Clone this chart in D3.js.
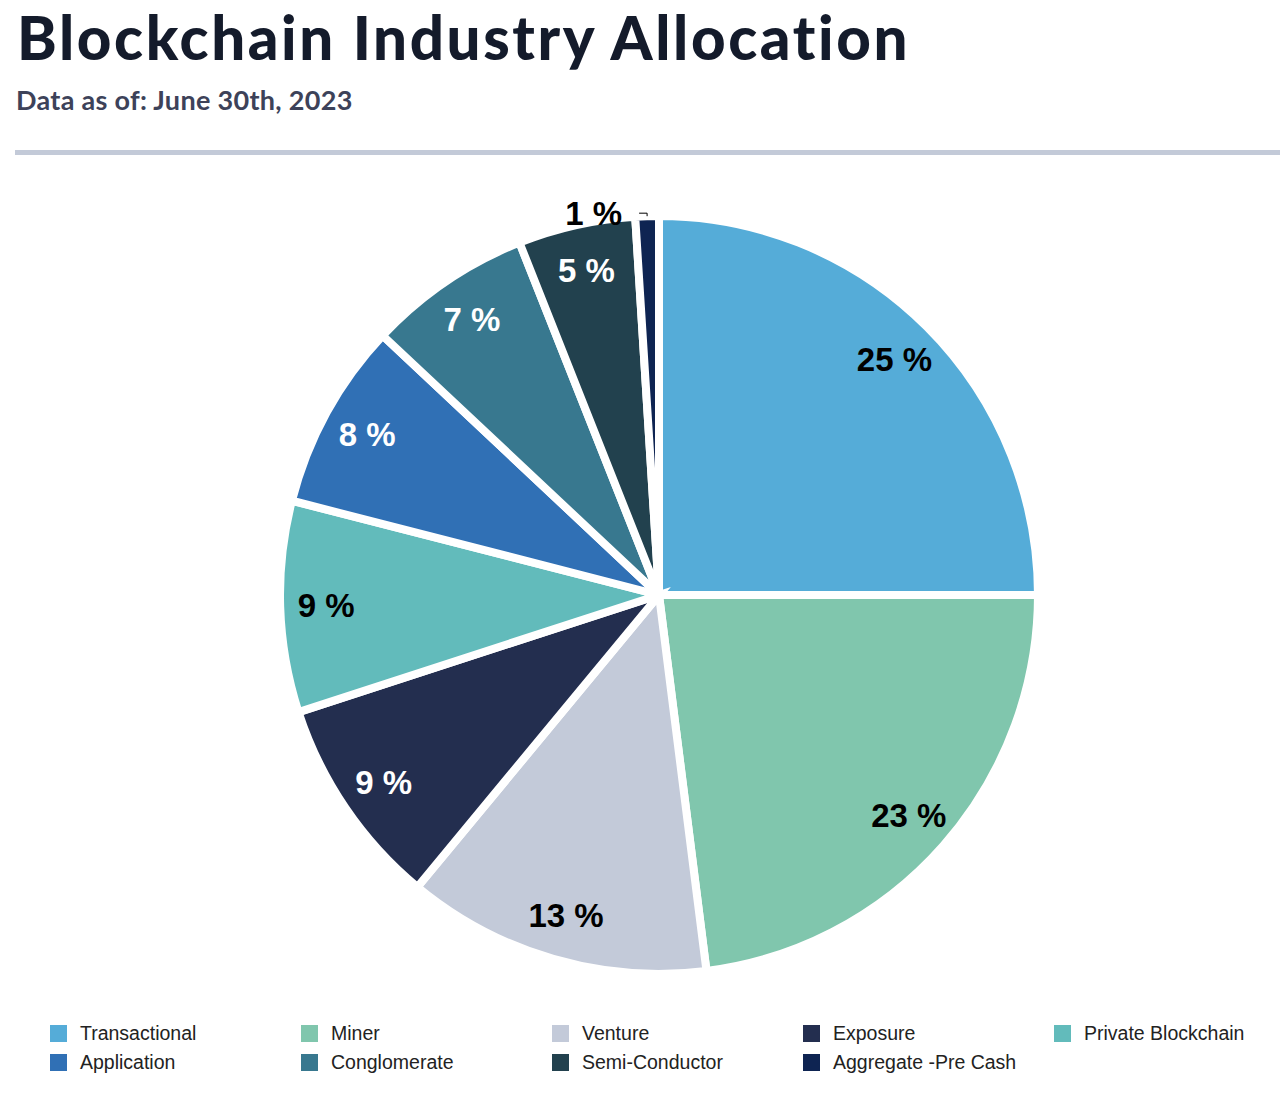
<!DOCTYPE html>
<html><head><meta charset="utf-8">
<script src="https://cdn.jsdelivr.net/npm/d3@7"></script>
<style>
html,body{margin:0;padding:0;background:#fff;}
svg{display:block;}
</style></head>
<body>
<svg id="chart" width="1280" height="1096"></svg>
<script>
const categories = ["Transactional","Miner","Venture","Exposure","Private Blockchain","Application","Conglomerate","Semi-Conductor","Aggregate -Pre Cash"];
const values = [25, 23, 13, 9, 9, 8, 7, 5, 1];
const colors = ["#55acd8","#80c6ad","#c3cad9","#232e4f","#62bbbb","#3070b5","#38788f","#22414e","#0e2452"];
const labelColors = ["#000","#000","#000","#fff","#000","#fff","#fff","#fff","#000"];
const title = "Blockchain Industry Allocation";
const subtitle = "Data as of: June 30th, 2023";

const svg = d3.select("#chart");

svg.append("text").attr("x",17).attr("y",60)
  .attr("font-family","Lato").attr("font-weight",900).attr("font-size",60)
  .attr("letter-spacing",2.6)
  .attr("fill","#141b2b").text(title);
svg.append("text").attr("x",16).attr("y",110)
  .attr("font-family","Lato").attr("font-weight",700).attr("font-size",27)
  .attr("letter-spacing",0.3)
  .attr("fill","#3d4259").text(subtitle);
svg.append("rect").attr("x",15).attr("y",150).attr("width",1265).attr("height",5).attr("fill","#c3cad8");

const cx = 659, cy = 595, R = 379;
const pie = d3.pie().value(d => d).sort(null);
const arcs = pie(values);
const arc = d3.arc().innerRadius(0).outerRadius(R);
const labelArc = d3.arc().innerRadius(333).outerRadius(333);

const g = svg.append("g").attr("transform",`translate(${cx},${cy})`);
g.selectAll("path.slice").data(arcs).join("path")
  .attr("class","slice")
  .attr("d",arc)
  .attr("fill",(d,i)=>colors[i])
  .attr("stroke","#fff").attr("stroke-width",8).attr("stroke-linejoin","miter");

const inside = arcs.filter(d => d.data >= 3);
g.selectAll("text.lbl").data(inside).join("text")
  .attr("class","lbl")
  .attr("transform",d => `translate(${labelArc.centroid(d)})`)
  .attr("text-anchor","middle").attr("dy","0.36em")
  .attr("font-family","Liberation Sans, Arial, sans-serif").attr("font-weight",700).attr("font-size",33)
  .attr("fill",d => labelColors[d.index])
  .text(d => d.data + " %");

// small slice: outside label with leader
const outside = arcs.filter(d => d.data < 3);
outside.forEach(d => {
  const a = (d.startAngle + d.endAngle)/2;
  const p0 = [Math.sin(a)*(R), -Math.cos(a)*(R)];
  const p1 = [p0[0], p0[1]-3];
  const p2 = [p0[0]-8, p0[1]-3];
  g.append("polyline").attr("points",[p0,p1,p2].map(p=>p.join(",")).join(" "))
    .attr("fill","none").attr("stroke","#000").attr("stroke-width",1);
  g.append("text").attr("x",p2[0]-17).attr("y",p2[1]).attr("dy","0.36em")
    .attr("text-anchor","end")
    .attr("font-family","Liberation Sans, Arial, sans-serif").attr("font-weight",700).attr("font-size",33)
    .attr("fill",labelColors[d.index]).text(d.data + " %");
});

// legend
const colX = [50, 301, 552, 803, 1054];
const leg = svg.append("g");
categories.forEach((c,i) => {
  const col = i % 5, row = Math.floor(i/5);
  const x = colX[col], y = 1033 + row*29;
  leg.append("rect").attr("x",x).attr("y",y-8).attr("width",17).attr("height",17).attr("fill",colors[i]);
  leg.append("text").attr("x",x+30).attr("y",y).attr("dy","0.35em")
    .attr("font-family","Liberation Sans, Arial, sans-serif").attr("font-size",19.5)
    .attr("fill","#222").text(c);
});
</script>
</body></html>
